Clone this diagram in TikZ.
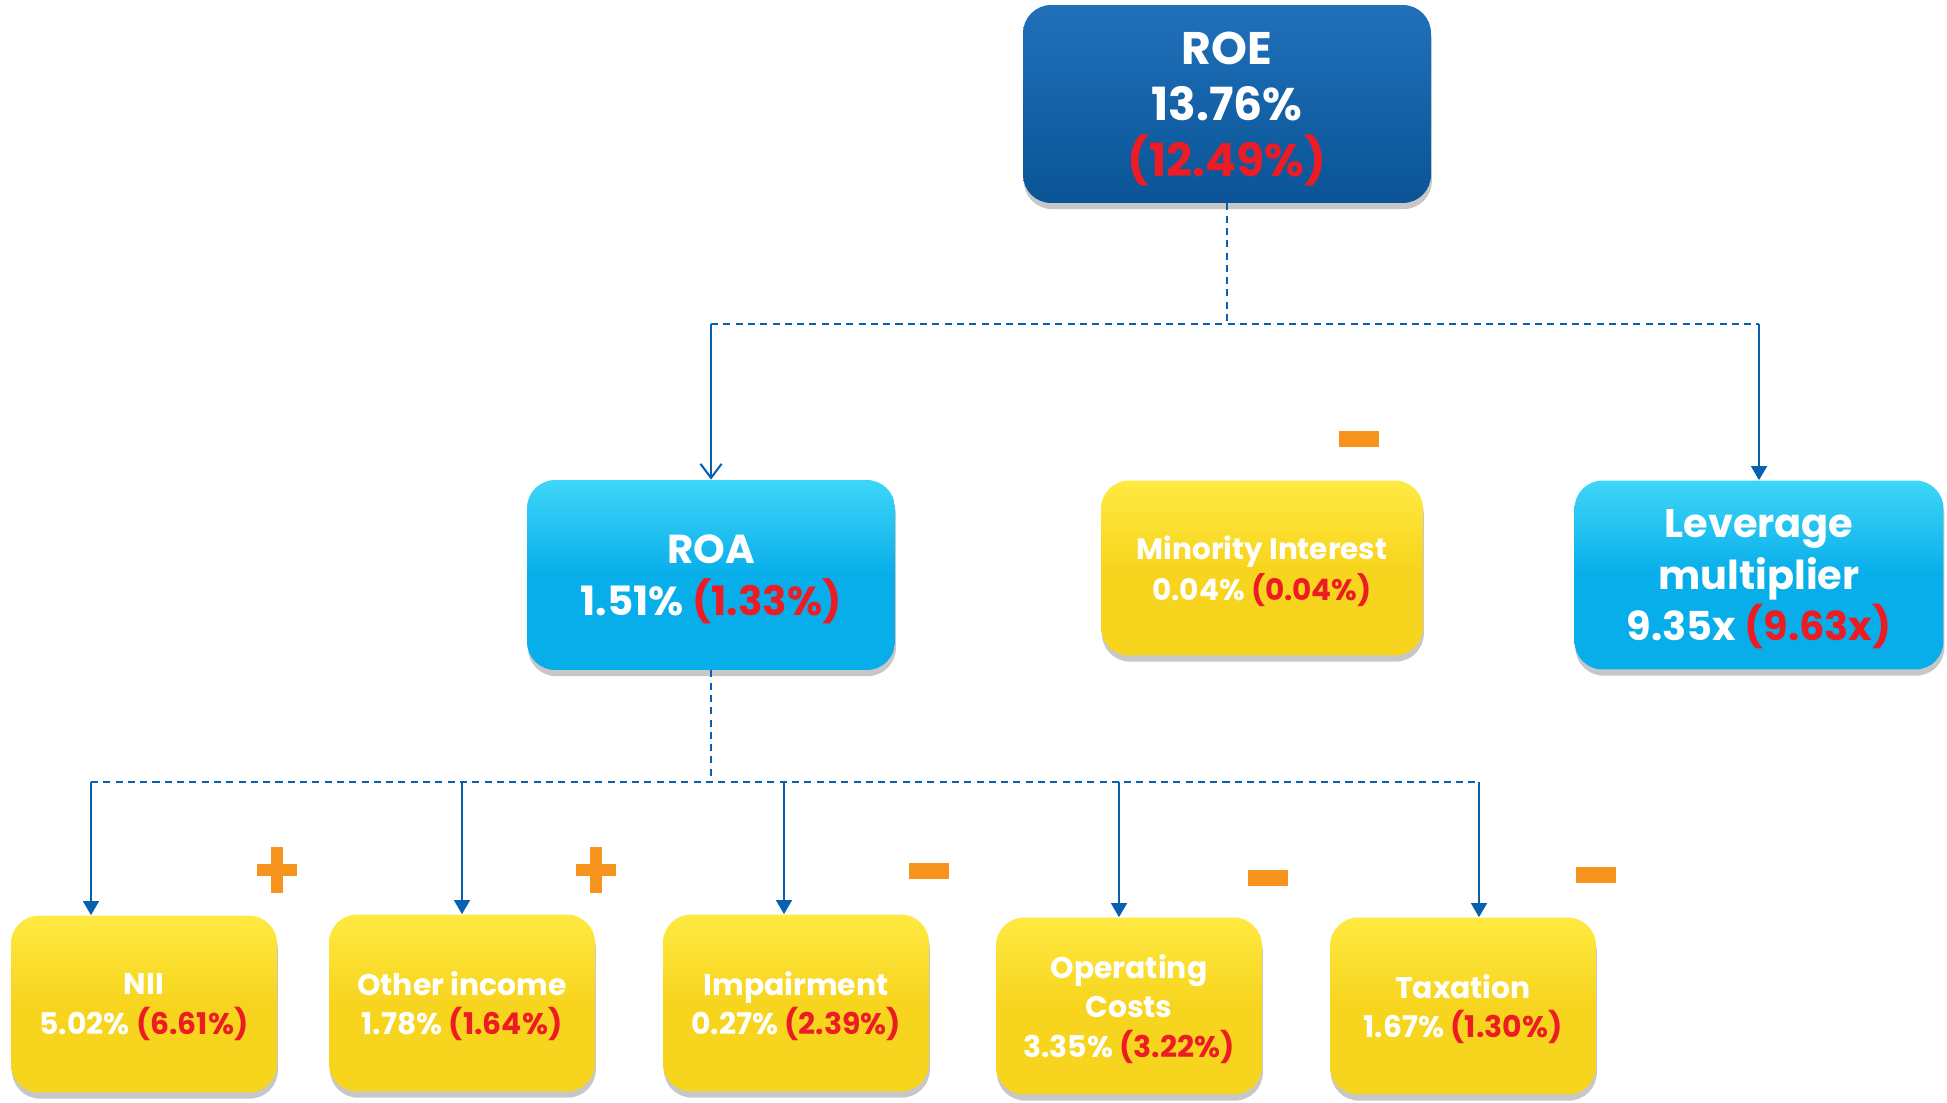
\documentclass[tikz,border=0pt]{standalone}
\usepackage{fontspec}
\setmainfont{Poppins}
\usetikzlibrary{arrows.meta, positioning, calc, shadows}
\definecolor{roeblue}{RGB}{10, 84, 150}
\definecolor{roebluetop}{RGB}{32, 112, 186}
\definecolor{roacyan}{RGB}{8, 174, 234}
\definecolor{roacyantop}{RGB}{62, 214, 248}
\definecolor{boxyellow}{RGB}{247, 212, 30}
\definecolor{boxyellowtop}{RGB}{255, 234, 66}
\definecolor{signorange}{RGB}{247, 148, 29}
\definecolor{valred}{RGB}{237, 28, 36}
\definecolor{linkblue}{RGB}{8, 96, 176}

\begin{document}
\begin{tikzpicture}[x=0.02cm, y=-0.02cm,
  box/.style={rounded corners=16pt, align=center, text=white, inner sep=0pt, text depth=0pt,
    drop shadow={shadow xshift=0.5pt, shadow yshift=-3.5pt, opacity=0.22, fill=black}},
  roebox/.style={box, top color=roebluetop, bottom color=roeblue,
    minimum width=8.16cm, minimum height=3.96cm, font=\bfseries\fontsize{26}{32}\selectfont},
  cyanbox/.style={box, top color=roacyantop, bottom color=roacyan, middle color=roacyan,
    minimum width=7.36cm, minimum height=3.8cm},
  yellowbox/.style={box, top color=boxyellowtop, bottom color=boxyellow, middle color=boxyellow,
    minimum width=5.32cm, minimum height=3.54cm, font=\bfseries\fontsize{17}{22.5}\selectfont},
  link/.style={draw=linkblue, line width=1.2pt, -{Triangle[width=9pt, length=8pt]}},
  bus/.style={draw=linkblue, line width=1pt, dash pattern=on 4pt off 3pt}]
  \useasboundingbox (0,0) rectangle (1947,1102);

  % Top level
  \node[roebox] (roe) at (1227, 104) {ROE\\13.76\%\\\textcolor{valred}{(12.49\%)}};

  % Second level
  \node[cyanbox, font=\bfseries\fontsize{23}{30}\selectfont] (roa) at (711, 575)
    {ROA\\1.51\% \textcolor{valred}{(1.33\%)}};
  \node[yellowbox, minimum width=6.44cm, minimum height=3.5cm, font=\bfseries\fontsize{16.8}{23}\selectfont] (minority) at (1262, 568)
    {Minority Interest\\0.04\% \textcolor{valred}{(0.04\%)}};
  \node[cyanbox, minimum width=7.38cm, minimum height=3.78cm, font=\bfseries\fontsize{22.7}{29.5}\selectfont] (lev) at (1759, 575)
    {Leverage\\multiplier\\9.35x \textcolor{valred}{(9.63x)}};

  % Third level
  \node[yellowbox] (nii) at (144, 1004) {NII\\5.02\% \textcolor{valred}{(6.61\%)}};
  \node[yellowbox] (other) at (462, 1003) {Other income\\1.78\% \textcolor{valred}{(1.64\%)}};
  \node[yellowbox] (impair) at (796, 1003) {Impairment\\0.27\% \textcolor{valred}{(2.39\%)}};
  \node[yellowbox] (opcost) at (1129, 1006) {Operating\\Costs\\3.35\% \textcolor{valred}{(3.22\%)}};
  \node[yellowbox] (tax) at (1463, 1006) {Taxation\\1.67\% \textcolor{valred}{(1.30\%)}};

  % Connectors ROE -> second level
  \coordinate (topbus) at (1227, 324);
  \draw[bus] (roe.south) -- (topbus);
  \draw[bus] (roa.north |- topbus) -- (lev.north |- topbus);
  \draw[link, -{Straight Barb[width=12pt, length=8pt]}] (roa.north |- topbus) -- (roa.north);
  \draw[link] (lev.north |- topbus) -- (lev.north);

  % Connectors ROA -> third level
  \coordinate (lowbus) at (711, 782);
  \draw[bus] (roa.south) -- (lowbus);
  \foreach \name/\x in {nii/91, other/462, impair/784, opcost/1119, tax/1479} {
    \coordinate (d-\name) at (\x, 782);
    \draw[link] (d-\name) -- (d-\name |- \name.north);
  }
  \draw[bus] (d-nii) -- (d-tax);

  % Signs
  \foreach \x/\y in {277/870, 596/870} {
    \fill[signorange] (\x-20, \y-6) rectangle (\x+20, \y+6);
    \fill[signorange] (\x-6, \y-23) rectangle (\x+6, \y+23);
  }
  \foreach \x/\y in {1359/439, 929/871, 1268/878, 1596/875} {
    \fill[signorange] (\x-20, \y-8) rectangle (\x+20, \y+8);
  }
\end{tikzpicture}
\end{document}
